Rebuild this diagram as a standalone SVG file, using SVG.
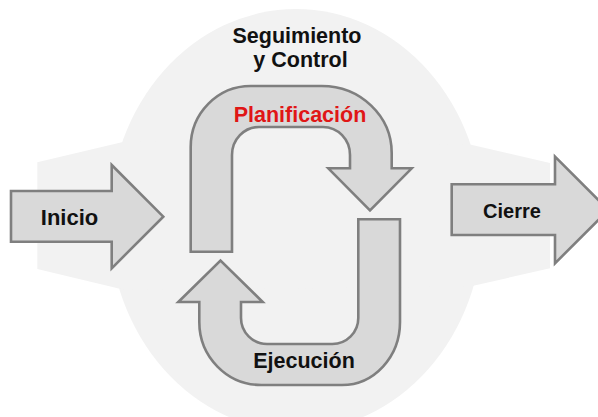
<svg xmlns="http://www.w3.org/2000/svg" width="598" height="417" viewBox="0 0 598 417">
<style>
.bg{fill:#f2f2f2;stroke:none}
.shape{fill:#d9d9d9;stroke:#7f7f7f;stroke-width:2.6;stroke-linejoin:miter}
.lbl{font-family:"Liberation Sans",Arial,sans-serif;font-weight:bold;font-size:21.5px;fill:#111;text-anchor:middle}
.red{fill:#e01616}
</style>
<rect width="598" height="417" fill="#ffffff"/>
<g id="background">
<ellipse class="bg" cx="296" cy="220" rx="187" ry="211"/>
<polygon class="bg" points="37.3,162.3 125,141.5 470,144.5 550,163 550,268.3 470,286.5 125,290 37.3,269"/>
</g>
<g id="inicio">
<polygon class="shape" points="11,191 111.7,191 111.7,165 163.3,216.7 111.7,268.3 111.7,241.7 11,241.7"/>
<text class="lbl" x="69.5" y="224.5" style="font-size:22px">Inicio</text>
</g>
<g id="cierre">
<polygon class="shape" points="451.7,184.3 555,184.3 555,156.7 608.3,210 555,263.3 555,235 451.7,235"/>
<text class="lbl" x="512" y="217.5" style="font-size:20px">Cierre</text>
</g>
<g id="seguimiento">
<text class="lbl" x="297" y="42.7">Seguimiento</text>
<text class="lbl" x="300.5" y="66.7">y Control</text>
</g>
<g id="planificacion">
<path class="shape" d="M190.7,251.7 L190.7,147 A60,61 0 0 1 250.7,86 L321.7,86 A70,67 0 0 1 391.7,153 L391.7,168.3 L411.7,168.3 L370,210.5 L328.3,168.3 L350,168.3 L350,155 A27,28 0 0 0 323,127 L259,127 A27,28 0 0 0 232,155 L232,251.7 Z"/>
<text class="lbl red" x="300" y="121.7">Planificación</text>
</g>
<g id="ejecucion">
<path class="shape" d="M358.3,219.3 L400,219.3 L400,322 A58,63 0 0 1 342,385 L261.3,385 A62,63 0 0 1 199.3,322 L199.3,302 L178.3,302 L220.5,260.5 L262.7,302 L241,302 L241,318 A26,26 0 0 0 267,344 L332.3,344 A26,26 0 0 0 358.3,318 Z"/>
<text class="lbl" x="304" y="368.3">Ejecución</text>
</g>
<g id="connectors"></g>
</svg>
